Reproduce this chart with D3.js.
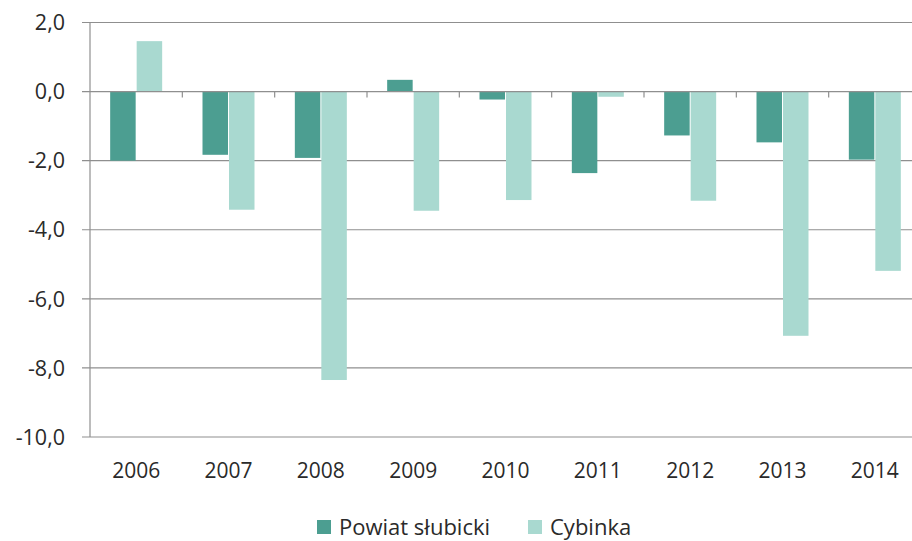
<!DOCTYPE html>
<html><head><meta charset="utf-8">
<script src="https://cdn.jsdelivr.net/npm/d3@7"></script>
<style>body{margin:0;background:#fff}svg{display:block}</style>
</head><body>
<svg id="c" width="912" height="541"></svg>
<script>
const years = ["2006","2007","2008","2009","2010","2011","2012","2013","2014"];
const powiat = [-2.0,-1.83,-1.92,0.34,-0.23,-2.36,-1.27,-1.47,-1.97];
const cybinka = [1.46,-3.42,-8.35,-3.45,-3.14,-0.15,-3.16,-7.07,-5.19];
const seriesNames = ["Powiat słubicki","Cybinka"];
const colors = ["#4c9e91","#a9d9d0"];
const yTicks = [2,0,-2,-4,-6,-8,-10];

const svg = d3.select("#c");
const font = "'Open Sans', 'Noto Sans', sans-serif";
const x = d3.scaleBand().domain(years).range([90, 921]).paddingInner(0).paddingOuter(0);
const y = d3.scaleLinear().domain([-10, 2]).range([437, 22.5]);
const fmt = v => d3.format(".1f")(v).replace(".", ",").replace("−","-");

// gridlines
svg.append("g").selectAll("line").data(yTicks.filter(t => t !== 0)).join("line")
  .attr("x1", 82).attr("x2", 912).attr("y1", d => y(d)).attr("y2", d => y(d))
  .attr("stroke", "#8f8f8f").attr("stroke-width", 1.2);

const bw = 25.5;
const data = years.map((yr, i) => ({yr, vals: [powiat[i], cybinka[i]]}));
const g = svg.append("g");
data.forEach(d => {
  const cx = x(d.yr) + x.bandwidth() / 2;
  d.vals.forEach((v, j) => {
    g.append("rect")
      .attr("x", j === 0 ? cx - bw - 0.5 : cx + 0.5)
      .attr("width", bw)
      .attr("y", Math.min(y(v), y(0)))
      .attr("height", Math.abs(y(v) - y(0)))
      .attr("fill", colors[j]);
  });
});

// zero axis line with ticks
svg.append("line").attr("x1", 82).attr("x2", 912).attr("y1", y(0)).attr("y2", y(0))
  .attr("stroke", "#8f8f8f").attr("stroke-width", 1.2);
svg.append("g").selectAll("line").data(years.slice(1)).join("line")
  .attr("x1", d => x(d)).attr("x2", d => x(d))
  .attr("y1", y(0)).attr("y2", y(0) + 6).attr("stroke", "#8f8f8f").attr("stroke-width", 1.2);

// left axis
svg.append("line").attr("x1", 90).attr("x2", 90).attr("y1", y(2)).attr("y2", y(-10))
  .attr("stroke", "#8f8f8f").attr("stroke-width", 1.2);

// y labels
svg.append("g").selectAll("text").data(yTicks).join("text")
  .attr("x", 65).attr("y", d => y(d)).attr("dy", "0.36em")
  .attr("text-anchor", "end").attr("font-family", font).attr("font-size", 21.5)
  .attr("fill", "#2a2a2a").text(d => fmt(d));

// x labels
svg.append("g").selectAll("text").data(years).join("text")
  .attr("x", d => x(d) + x.bandwidth() / 2).attr("y", 478)
  .attr("text-anchor", "middle").attr("font-family", font).attr("font-size", 21)
  .attr("fill", "#2a2a2a").text(d => d);

// legend
const leg = svg.append("g");
const legX = [317, 528];
seriesNames.forEach((n, i) => {
  leg.append("rect").attr("x", legX[i]).attr("y", 520).attr("width", 14).attr("height", 14).attr("fill", colors[i]);
  leg.append("text").attr("x", legX[i] + 22).attr("y", 535).attr("font-family", font)
    .attr("font-size", 22).attr("fill", "#2a2a2a").text(n);
});
</script>
</body></html>
